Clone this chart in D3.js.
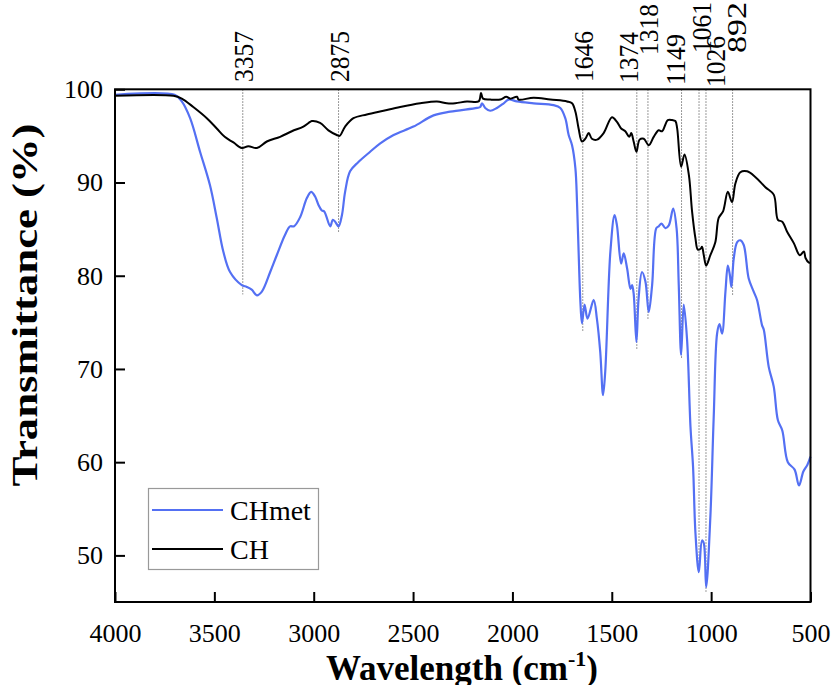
<!DOCTYPE html>
<html lang="en">
<head>
  <meta charset="UTF-8">
  <title>FTIR</title>
  <script src="https://d3js.org/d3.v7.min.js"></script>
  <style>
    body { margin: 0; background: #fff; }
    text { font-family: "Liberation Serif", serif; fill: #000; }
  </style>
</head>
<body>
  <div class="chartContainer"></div>
  <script>
    // CHmet (blue)
    const chmetWn = [4000, 3700, 3664, 3622, 3572, 3522, 3488, 3455, 3421, 3362, 3337, 3312, 3286, 3261, 3219, 3186, 3144, 3119, 3099, 3068, 3035, 3013, 2993, 2976, 2959, 2947, 2917, 2904, 2892, 2875, 2858, 2842, 2817, 2775, 2716, 2665, 2598, 2498, 2397, 2313, 2178, 2162, 2153, 2137, 2112, 2078, 2044, 2019, 1977, 1893, 1793, 1759, 1734, 1717, 1700, 1683, 1675, 1667, 1658, 1650, 1637, 1622, 1591, 1575, 1558, 1544, 1533, 1507, 1486, 1474, 1453, 1440, 1423, 1406, 1398, 1390, 1376, 1365, 1348, 1331, 1314, 1297, 1276, 1264, 1250, 1230, 1213, 1191, 1174, 1163, 1151, 1138, 1121, 1104, 1091, 1079, 1062, 1046, 1037, 1025, 1004, 987, 970, 958, 945, 928, 916, 906, 898, 886, 869, 853, 836, 811, 786, 769, 744, 735, 710, 685, 664, 642, 614, 580, 558, 536, 516, 500]
    const chmetT = [99.4, 99.4, 98.7, 96.9, 93.3, 89.7, 86.2, 82.6, 80.4, 79.0, 78.8, 78.5, 77.9, 78.3, 80.4, 82.2, 84.4, 85.3, 85.3, 86.3, 88.3, 89.0, 88.5, 87.6, 87.0, 86.9, 85.3, 86.0, 85.8, 85.3, 86.5, 89.0, 91.2, 92.2, 93.3, 94.2, 95.1, 96.0, 97.2, 97.6, 98.0, 98.1, 98.5, 98.0, 97.7, 98.0, 98.5, 98.9, 98.7, 98.5, 98.3, 98.0, 96.9, 95.1, 94.0, 91.5, 87.9, 82.6, 77.2, 74.9, 76.9, 75.4, 77.4, 75.4, 71.8, 67.2, 69.7, 82.6, 86.5, 85.4, 81.3, 82.4, 80.8, 78.6, 79.0, 78.1, 72.9, 77.6, 80.4, 79.4, 76.1, 79.0, 85.1, 85.3, 85.6, 85.1, 85.4, 87.2, 85.1, 79.0, 71.5, 76.9, 73.1, 63.8, 59.5, 52.4, 48.2, 51.6, 51.3, 46.6, 54.1, 64.9, 73.8, 74.8, 73.8, 78.3, 81.1, 80.1, 78.8, 81.9, 83.6, 83.8, 83.3, 79.7, 78.3, 77.4, 74.7, 74.2, 70.2, 68.1, 64.5, 63.4, 60.0, 59.2, 57.5, 59.0, 59.7, 60.6]

    // CH (black)
    const chWn = [4000, 3706, 3664, 3606, 3538, 3488, 3448, 3404, 3362, 3329, 3286, 3236, 3169, 3110, 3052, 3018, 3009, 2968, 2926, 2884, 2870, 2842, 2800, 2733, 2649, 2565, 2464, 2380, 2330, 2288, 2229, 2170, 2158, 2148, 2112, 2061, 2031, 2011, 1977, 1969, 1893, 1809, 1725, 1700, 1683, 1667, 1650, 1633, 1616, 1600, 1574, 1541, 1499, 1474, 1453, 1432, 1412, 1402, 1390, 1376, 1360, 1339, 1314, 1289, 1264, 1247, 1218, 1196, 1180, 1171, 1151, 1134, 1112, 1096, 1079, 1067, 1053, 1046, 1037, 1025, 1004, 979, 962, 940, 916, 895, 878, 853, 819, 778, 727, 685, 664, 642, 617, 584, 554, 533, 525, 508, 500]
    const chT = [99.3, 99.3, 99.0, 98.1, 96.9, 95.8, 94.9, 94.3, 93.7, 93.9, 93.7, 94.4, 94.9, 95.5, 96.0, 96.5, 96.6, 96.4, 95.6, 95.1, 95.0, 96.0, 96.9, 97.3, 97.7, 98.1, 98.5, 98.7, 98.5, 98.5, 98.7, 98.7, 99.6, 99.0, 98.9, 98.9, 99.2, 99.0, 99.2, 98.9, 99.1, 98.9, 98.7, 98.5, 97.6, 95.8, 94.4, 94.7, 95.3, 94.7, 94.6, 95.3, 97.0, 96.5, 95.8, 95.5, 94.9, 95.3, 94.4, 93.3, 94.6, 94.7, 94.0, 94.9, 95.6, 95.5, 96.7, 96.7, 96.6, 95.8, 91.7, 93.0, 90.8, 86.9, 84.0, 82.8, 82.9, 83.1, 82.2, 81.1, 82.2, 83.6, 86.2, 86.9, 89.0, 87.9, 89.9, 91.1, 91.2, 90.6, 89.5, 88.7, 86.0, 85.8, 84.7, 83.5, 82.2, 82.6, 81.9, 81.4, 81.4]

    // marked peaks and how far down their guide line reaches
    const peaks = [3357, 2875, 1646, 1374, 1318, 1149, 1061, 1026, 892]
    const peakLineEnd = [78, 84.6, 74, 72.1, 75.25, 71.2, 48.4, 46.1, 77.9]

    const xTicks = [4000, 3500, 3000, 2500, 2000, 1500, 1000, 500]
    const yTicks = [50, 60, 70, 80, 90, 100]

    const seriesNames = ['CHmet', 'CH']
    const seriesColors = ['#5470f3', '#000000']

    // label placement (text shift in px, bottom end of text in px)
    const labelShift = [0, 0, 0, -9, 0, -6.5, 2, 9, 3]
    const labelEnd = [82, 82, 82, 83, 55, 85, 53, 87, 53]

    const W = 832, H = 685
    const m = { left: 115, right: 21.5, top: 89.3, bottom: 83 }

    const svg = d3.select('.chartContainer')
      .append('svg')
      .attr('width', W)
      .attr('height', H)

    const x = d3.scaleLinear().domain([4000, 500]).range([m.left, W - m.right])
    const y = d3.scaleLinear().domain([45, 100]).range([H - m.bottom, m.top])

    // guide lines for peaks
    svg.append('g').selectAll('line')
      .data(peaks)
      .join('line')
      .attr('x1', d => x(d))
      .attr('x2', d => x(d))
      .attr('y1', m.top)
      .attr('y2', (d, i) => y(peakLineEnd[i]))
      .attr('stroke', '#555')
      .attr('stroke-width', 0.8)
      .attr('stroke-dasharray', '1.5,1.5')

    const line = d3.line()
      .x(d => x(d[0]))
      .y(d => y(d[1]))
      .curve(d3.curveCatmullRom.alpha(0.5))

    const blue = chmetWn.map((w, i) => [w, chmetT[i]])
    const black = chWn.map((w, i) => [w, chT[i]])

    svg.append('path')
      .attr('d', line(blue))
      .attr('fill', 'none')
      .attr('stroke', seriesColors[0])
      .attr('stroke-width', 2.2)

    svg.append('path')
      .attr('d', line(black))
      .attr('fill', 'none')
      .attr('stroke', seriesColors[1])
      .attr('stroke-width', 2)

    // frame
    svg.append('rect')
      .attr('x', m.left)
      .attr('y', m.top)
      .attr('width', W - m.right - m.left)
      .attr('height', H - m.bottom - m.top)
      .attr('fill', 'none')
      .attr('stroke', '#000')
      .attr('stroke-width', 2)

    // x axis
    const xAxis = svg.append('g').attr('transform', `translate(0,${H - m.bottom})`)
    xAxis.call(d3.axisBottom(x).tickValues(d3.range(4000, 499, -250)).tickSize(-5).tickFormat(''))
    xAxis.call(d3.axisBottom(x).tickValues(xTicks).tickSize(-10).tickPadding(22).tickFormat(d3.format('d')))
    xAxis.selectAll('.domain').remove()
    xAxis.selectAll('line').attr('stroke', '#000').attr('stroke-width', 2)
    xAxis.selectAll('text').attr('font-size', 26).attr('font-family', '"Liberation Serif", serif')

    // y axis
    const yAxis = svg.append('g').attr('transform', `translate(${m.left},0)`)
    yAxis.call(d3.axisLeft(y).tickValues(d3.range(45, 101, 5)).tickSize(-5).tickFormat(''))
    yAxis.call(d3.axisLeft(y).tickValues(yTicks).tickSize(-10).tickPadding(12).tickFormat(d3.format('d')))
    yAxis.selectAll('.domain').remove()
    yAxis.selectAll('line').attr('stroke', '#000').attr('stroke-width', 2)
    yAxis.selectAll('text').attr('font-size', 26).attr('font-family', '"Liberation Serif", serif')

    // peak labels
    svg.append('g').selectAll('text')
      .data(peaks)
      .join('text')
      .attr('transform', (d, i) => `translate(${x(d) + labelShift[i]},${labelEnd[i]}) rotate(-90)`)
      .attr('dy', '0.38em')
      .attr('font-size', 27)
      .attr('textLength', 51)
      .attr('lengthAdjust', 'spacingAndGlyphs')
      .text(d => d)

    // axis titles
    svg.append('text')
      .attr('transform', 'translate(37,305) rotate(-90)')
      .attr('text-anchor', 'middle')
      .attr('font-size', 36)
      .attr('font-weight', 'bold')
      .attr('textLength', 363)
      .attr('lengthAdjust', 'spacingAndGlyphs')
      .text('Transmittance (%)')

    const xt = svg.append('text')
      .attr('x', 462)
      .attr('y', 680)
      .attr('text-anchor', 'middle')
      .attr('font-size', 35)
      .attr('font-weight', 'bold')
    xt.append('tspan').text('Wavelength (cm')
    xt.append('tspan').attr('font-size', 22).attr('dy', -14).text('-1')
    xt.append('tspan').attr('dy', 14).text(')')

    // legend
    const lg = svg.append('g')
    lg.append('rect')
      .attr('x', 148.5).attr('y', 488.5)
      .attr('width', 170).attr('height', 81)
      .attr('fill', '#fff')
      .attr('stroke', '#999')
      .attr('stroke-width', 1.2)
    seriesNames.forEach((name, i) => {
      const ly = 510 + i * 39
      lg.append('line')
        .attr('x1', 152).attr('x2', 223)
        .attr('y1', ly).attr('y2', ly)
        .attr('stroke', seriesColors[i])
        .attr('stroke-width', 2)
      lg.append('text')
        .attr('x', 230).attr('y', ly + 10)
        .attr('font-size', 28)
        .text(name)
    })
  </script>
</body>
</html>
